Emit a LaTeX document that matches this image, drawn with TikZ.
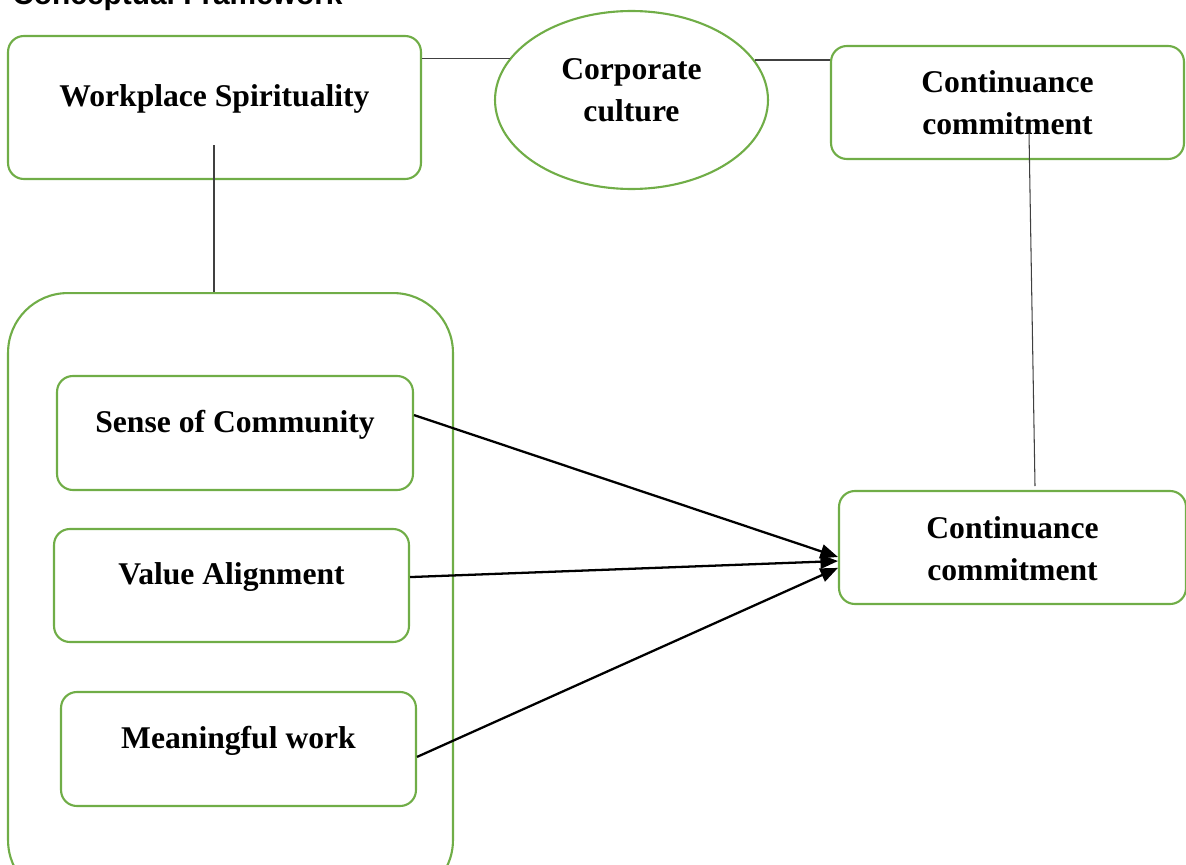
\documentclass[tikz,border=0pt]{standalone}
\usepackage{fontspec}
\setmainfont{Liberation Serif}
\newfontfamily\headfont{Liberation Sans}
\usepackage{xcolor}
\usetikzlibrary{positioning}
\usetikzlibrary{shapes,arrows.meta}
\definecolor{leaf}{HTML}{70AD47}

\begin{document}
\begin{tikzpicture}[x=0.02cm, y=-0.02cm,
  box/.style={draw=leaf, line width=1.2pt, rounded corners=9pt, inner sep=0pt},
  txt/.style={font=\bfseries\fontsize{18}{24}\selectfont, align=center, inner sep=0pt},
  link/.style={draw=black!75, line width=0.6pt},
  flow/.style={draw=black, line width=1.3pt, -{Triangle[length=10pt,width=8pt]}},
  head/.style={font=\headfont\bfseries\fontsize{17}{20}\selectfont, inner sep=0pt}]
\useasboundingbox (0,0) rectangle (1186,865);

\node[head, anchor=base west] (title) at (12,5) {Conceptual Framework};

% top row
\node[box, minimum width=8.26cm, minimum height=2.86cm] (ws) at (214.5,107.5) {};
\node[txt] (wsT) at ([yshift=4.6pt]ws.center) {Workplace Spirituality};
\node[draw=leaf, line width=1.2pt, ellipse, minimum width=5.46cm, minimum height=3.56cm, inner sep=0pt] (cult) at (631.5,100) {};
\node[txt] (cultT) at ([yshift=5.4pt]cult.center) {Corporate\\culture};
\node[box, minimum width=7.06cm, minimum height=2.26cm] (cct) at (1007.5,102.5) {};
\node[txt] (cctT) at (cct.center) {Continuance\\commitment};

% dimensions frame
\node[box, rounded corners=34pt, minimum width=8.9cm, minimum height=12.14cm] (frame) at (230.5,596.5) {};
\node[box, minimum width=7.12cm, minimum height=2.28cm] (soc) at (235,433) {};
\node[txt] (socT) at ([yshift=4.6pt]soc.center) {Sense of Community};
\node[box, minimum width=7.1cm, minimum height=2.26cm] (va) at (231.5,585.5) {};
\node[txt] (vaT) at ([yshift=4.6pt]va.center) {Value Alignment};
\node[box, minimum width=7.1cm, minimum height=2.28cm] (mw) at (238.5,749) {};
\node[txt] (mwT) at ([yshift=4.6pt]mw.center) {Meaningful work};

\node[box, minimum width=6.94cm, minimum height=2.26cm] (ccb) at (1012.5,547.5) {};
\node[txt] (ccbT) at ([yshift=-0.6pt]ccb.center) {Continuance\\commitment};

\coordinate (wsin) at (214,145);
\coordinate (cctin) at (1029,133);
\coordinate (ccbtop) at (1035,486);

\draw[link] (ws.east |- cult.161.3) -- (cult.161.3);
\draw[link] (cult.18.7) -- (cct.west |- cult.18.7);
\draw[link] (wsin) -- (wsin |- frame.north);
\draw[link] (cctin) -- (ccbtop);

\draw[flow] ([yshift=10.2pt]soc.east) -- ([yshift=-5.4pt]ccb.west);
\draw[flow] ([yshift=4.8pt]va.east) -- ([yshift=-7.7pt]ccb.west);
\draw[flow] ([yshift=-4.5pt]mw.east) -- ([yshift=-11.6pt]ccb.west);
\end{tikzpicture}
\end{document}
